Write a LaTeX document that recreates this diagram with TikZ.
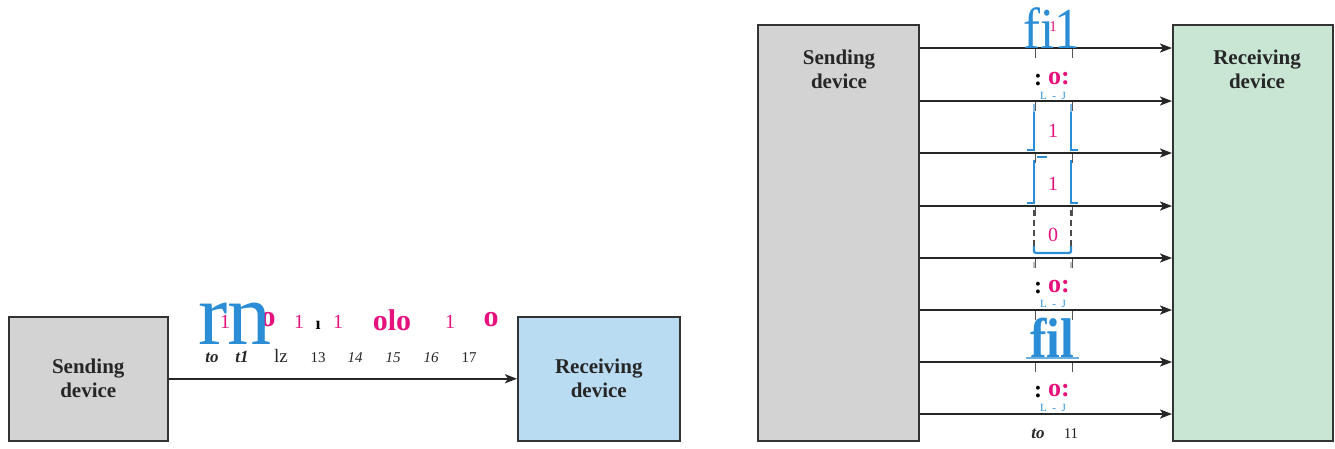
\documentclass[tikz,border=0pt]{standalone}
\usepackage{fontspec}
\setmainfont{Liberation Serif}
\usetikzlibrary{arrows.meta,calc}
\definecolor{boxgray}{HTML}{D3D3D3}
\definecolor{boxblue}{HTML}{B9DCF3}
\definecolor{boxgreen}{HTML}{C9E6D5}
\definecolor{edgegray}{HTML}{333333}
\definecolor{sigblue}{HTML}{2A8DD6}
\definecolor{bitmag}{HTML}{E5127E}
\definecolor{tickgray}{HTML}{555555}
\tikzset{
  x=1pt,y=-1pt,
  devbox/.style={draw=edgegray,line width=1.5pt,inner sep=0pt,anchor=north west,
     font=\bfseries\fontsize{21}{24}\selectfont,align=center,text=black!85},
  arr/.style={line width=2.2pt,draw=black!85,-{Stealth[length=12pt,width=9pt,inset=3pt]}},
  bit/.style={text=bitmag,font=\fontsize{20}{22}\selectfont,inner sep=0pt},
  bitb/.style={text=bitmag,font=\bfseries\fontsize{30}{32}\selectfont,inner sep=0pt},
  bitc/.style={text=bitmag,font=\bfseries\fontsize{26}{28}\selectfont,inner sep=0pt},
  tlab/.style={font=\fontsize{15}{17}\selectfont,inner sep=0pt,anchor=base,text=black!85},
  tlabbi/.style={font=\bfseries\itshape\fontsize{17}{18}\selectfont,inner sep=0pt,anchor=base,text=black!85},
  tlabi/.style={font=\itshape\fontsize{15}{17}\selectfont,inner sep=0pt,anchor=base,text=black!85},
  colon/.style={font=\bfseries\fontsize{24}{26}\selectfont,inner sep=0pt,text=black},
  lj/.style={font=\fontsize{11}{12}\selectfont,inner sep=0pt,text=sigblue},
  pulse/.style={draw=sigblue,line width=2.2pt},
  tickline/.style={draw=tickgray,line width=1.5pt},
  dashline/.style={draw=black!70,line width=1.3pt,dash pattern=on 6pt off 4pt},
}
\begin{document}
\begin{tikzpicture}
\useasboundingbox (0,0) rectangle (1335,448);
% ---------------- serial ----------------
\node[devbox,fill=boxgray,minimum width=159pt,minimum height=124pt] (s1) at (8,316) {};
\node[devbox,draw=none,anchor=center] (s1t) at (s1.center) {Sending\\device};
\node[devbox,fill=boxblue,minimum width=162pt,minimum height=124pt] (r1) at (517,316) {};
\node[devbox,draw=none,anchor=center] (r1t) at (r1.center) {Receiving\\device};
\draw[arr] (s1.east) -- (r1.west);

\node[bit] (a1) at (225,322) {1};
\node[bitb] (a2) at (268,320) {o};
\node[text=sigblue,font=\fontsize{88}{90}\selectfont,inner sep=0pt,anchor=base] (rn) at (235,344) {rn};
\node[bit] (a3) at (299,322) {1};
\node[font=\bfseries\fontsize{18}{18}\selectfont,inner sep=0pt] (a4) at (318,325) {ı};
\node[bit] (a5) at (338,322) {1};
\node[bitb] (a6) at (392,320) {olo};
\node[bit] (a7) at (450,322) {1};
\node[bitb] (a8) at (491,320) {o};

\node[tlabbi] (t0) at (212,362) {to};
\node[tlabbi] (t1) at (242,362) {t1};
\node[tlab,font=\fontsize{19}{20}\selectfont] (t2) at (281,362) {lz};
\node[tlab] (t3) at (318,362) {13};
\node[tlabi] (t4) at (355,362) {14};
\node[tlabi] (t5) at (393,362) {15};
\node[tlabi] (t6) at (431,362) {16};
\node[tlab] (t7) at (469,362) {17};

% ---------------- parallel ----------------
\node[devbox,fill=boxgray,minimum width=161pt,minimum height=416pt] (s2) at (757,24) {};
\node[devbox,draw=none,anchor=center] (s2t) at (839,69) {Sending\\device};
\node[devbox,fill=boxgreen,minimum width=160pt,minimum height=416pt] (r2) at (1172,24) {};
\node[devbox,draw=none,anchor=center] (r2t) at (1257,69) {Receiving\\device};

\foreach \i/\yy in {1/48,2/101,3/153,4/206,5/258,6/310,7/362,8/414}{
  \coordinate (L\i) at (s2.east |- 0,\yy);
  \coordinate (R\i) at (r2.west |- 0,\yy);
  \draw[arr] (L\i) -- (R\i);
}
% tick marks under lines
\foreach \i in {1,2,3,4,5,6,7}{
  \draw[tickline] ($(L\i)+(116,1)$) -- ++(0,9);
  \draw[tickline] ($(L\i)+(153,1)$) -- ++(0,9);
}

% row 1: fi1
\node[text=sigblue,font=\fontsize{58}{60}\selectfont,inner sep=0pt,anchor=base,xscale=0.88] (f1) at (1052,48) {fi1};
\node[bit,font=\fontsize{15}{16}\selectfont] (b1) at (1053,27) {1};

% row 2
\node[colon] (c2) at (1038,80) {:};
\node[bitc] (o2) at (1059,79) {o:};
\node[lj] (lj2) at (1053,96) {L\,\,\,-\,\,\,J};
\draw[pulse,draw=sigblue!60] (1034,104) -- (1034,114) (1071,104) -- (1071,114);

% row 3: pulse
\draw[pulse] (1027,150) -- (1034,150) -- (1034,112);
\draw[pulse] (1071,112) -- (1071,150) -- (1078,150);
\node[bit] (b3) at (1053,131) {1};
\draw[pulse] (1037,157) -- (1047,157);

% row 4: pulse
\draw[pulse] (1027,203) -- (1034,203) -- (1034,160);
\draw[pulse] (1071,160) -- (1071,203) -- (1078,203);
\node[bit] (b4) at (1053,184) {1};

% row 5: zero
\draw[dashline] (1034,210) -- (1034,250);
\draw[dashline] (1071,210) -- (1071,250);
\draw[pulse,rounded corners=2pt] (1034,246) -- (1034,253) -- (1071,253) -- (1071,246);
\node[bit] (b5) at (1053,235) {0};

% row 6
\draw[dashline,draw=black!25] (1034,262) -- (1034,272);
\draw[dashline,draw=black!25] (1071,262) -- (1071,272);
\node[colon] (c6) at (1038,288) {:};
\node[bitc] (o6) at (1059,287) {o:};
\node[lj] (lj6) at (1053,304) {L\,\,\,-\,\,\,J};

% row 7: fil
\draw[pulse,draw=sigblue!70] (1026,358) -- (1079,358);
\node[text=sigblue,font=\bfseries\fontsize{56}{58}\selectfont,inner sep=0pt,anchor=base,xscale=0.88] (f7) at (1052,357) {fil};

% row 8
\node[colon] (c8) at (1038,392) {:};
\node[bitc] (o8) at (1059,391) {o:};
\node[lj] (lj8) at (1053,408) {L\,\,\,-\,\,\,J};

\node[tlabbi] (p0) at (1038,438) {to};
\node[tlab] (p1) at (1071,438) {11};
\end{tikzpicture}
\end{document}
